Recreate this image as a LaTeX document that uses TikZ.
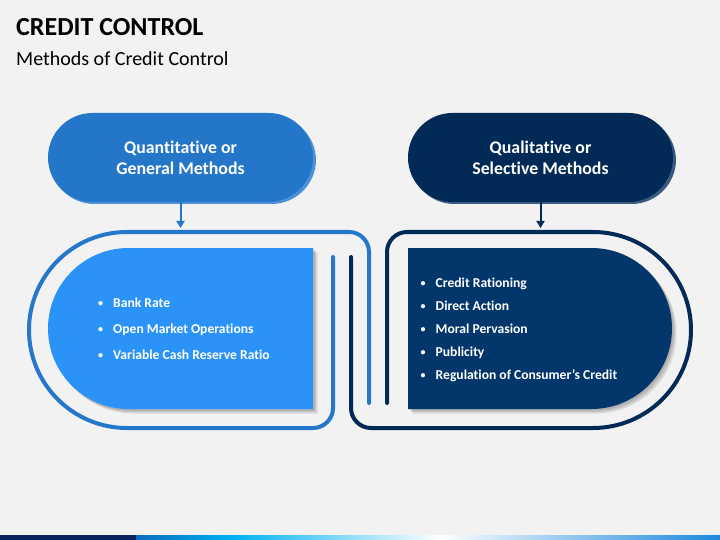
\documentclass[tikz,border=0pt]{standalone}
\usepackage{fontspec}
\setmainfont{Carlito}[Ligatures=NoCommon]
\usetikzlibrary{arrows.meta}
\definecolor{bgc}{HTML}{F2F2F2}
\definecolor{pillblue}{HTML}{2476C9}
\definecolor{pillnavy}{HTML}{022A56}
\definecolor{pillblueshade}{HTML}{4D91D8}
\definecolor{pillnavyshade}{HTML}{3A5A80}
\definecolor{boxblue}{HTML}{2B93F7}
\definecolor{boxnavy}{HTML}{03376B}
\definecolor{lineblue}{HTML}{2477CB}
\definecolor{linenavy}{HTML}{022A56}
\definecolor{barnavy}{HTML}{0B2160}
\definecolor{barblue}{HTML}{0A6CC0}
\definecolor{barcyan}{HTML}{00B2F0}
\definecolor{barend}{HTML}{1A88DE}
\tikzset{
  pillshape/.style={rectangle, rounded corners=44.5pt, minimum width=265pt, minimum height=89pt, inner sep=0pt, align=center, text=white, font=\fontsize{17.8}{21}\selectfont\bfseries},
  outline/.style={line width=4pt, line cap=round},
  downarrow/.style={line width=2pt, -{Triangle[width=8pt,length=7pt]}},
  bulletitem/.style={anchor=base west, inner sep=0pt, text=white, font=\fontsize{13.6}{16}\selectfont\bfseries},
  boxshadow/.style={fill=black, opacity=0.10}
}
\newcommand{\bul}[1]{\makebox[15pt][l]{\raisebox{1pt}{\fontsize{10}{10}\selectfont •}}#1}
\begin{document}
\begin{tikzpicture}[x=1pt,y=-1pt]
\fill[bgc] (0,0) rectangle (720,540);
\useasboundingbox (0,0) rectangle (720,540);

% title
\node[anchor=base west, inner sep=0pt, font=\fontsize{26}{30}\selectfont\bfseries] (title) at (16,36) {CREDIT CONTROL};
\node[anchor=base west, inner sep=0pt, font=\fontsize{20}{24}\selectfont] (subtitle) at (16,66) {Methods of Credit Control};

% pills
\fill[pillblueshade, rounded corners=44.5pt] (50,116) rectangle (316,204);
\fill[pillnavyshade, rounded corners=44.5pt] (410,116) rectangle (676,204);
\node[pillshape, fill=pillblue] (qpill) at (180.5,157.5) {Quantitative or\\General Methods};
\node[pillshape, fill=pillnavy] (spill) at (540.5,157.5) {Qualitative or\\Selective Methods};

\coordinate (qend) at (180.5,228);
\coordinate (send) at (540.5,228);
\draw[downarrow, lineblue] (qpill.south) -- (qend);
\draw[downarrow, linenavy] (spill.south) -- (send);

% outlines
\draw[outline, lineblue] (333,257) -- (333,408) arc[start angle=0, end angle=90, radius=20] -- (127,428)
  arc[start angle=90, end angle=270, radius=98] -- (349,232)
  arc[start angle=270, end angle=360, radius=20] -- (369,403);
\draw[outline, linenavy] (387,403) -- (387,252) arc[start angle=180, end angle=270, radius=20] -- (593,232)
  arc[start angle=270, end angle=450, radius=98] -- (371,428)
  arc[start angle=90, end angle=180, radius=20] -- (351,257);

% box shadows
\foreach \d in {1.5,3,4.5}{
  \begin{scope}[shift={(\d,\d)}]
  \fill[boxshadow] (313,248) -- (128.5,248) arc[start angle=270, end angle=90, radius=80.5] -- (313,409) -- cycle;
  \fill[boxshadow] (408,248) -- (591.5,248) arc[start angle=270, end angle=450, radius=80.5] -- (408,409) -- cycle;
  \end{scope}
}
% boxes
\fill[boxblue] (313,248) -- (128.5,248) arc[start angle=270, end angle=90, radius=80.5] -- (313,409) -- cycle;
\fill[boxnavy] (408,248) -- (591.5,248) arc[start angle=270, end angle=450, radius=80.5] -- (408,409) -- cycle;

% lists
\node[bulletitem] (q1) at (98,307.7) {\bul{Bank Rate}};
\node[bulletitem] (q2) at (98,333.5) {\bul{Open Market Operations}};
\node[bulletitem] (q3) at (98,359.3) {\bul{Variable Cash Reserve Ratio}};
\node[bulletitem] (s1) at (420.5,287.7) {\bul{Credit Rationing}};
\node[bulletitem] (s2) at (420.5,310.7) {\bul{Direct Action}};
\node[bulletitem] (s3) at (420.5,333.7) {\bul{Moral Pervasion}};
\node[bulletitem] (s4) at (420.5,356.7) {\bul{Publicity}};
\node[bulletitem] (s5) at (420.5,379.5) {\bul{Regulation of Consumer’s Credit}};

% bottom bar
\fill[barnavy] (0,535) rectangle (136,540);
\shade[left color=barblue, right color=barcyan] (136,535) rectangle (233,540);
\shade[left color=barcyan, right color=white] (232.8,535) rectangle (440,540);
\shade[left color=white, right color=barend] (439.8,535) rectangle (720,540);
\end{tikzpicture}
\end{document}
